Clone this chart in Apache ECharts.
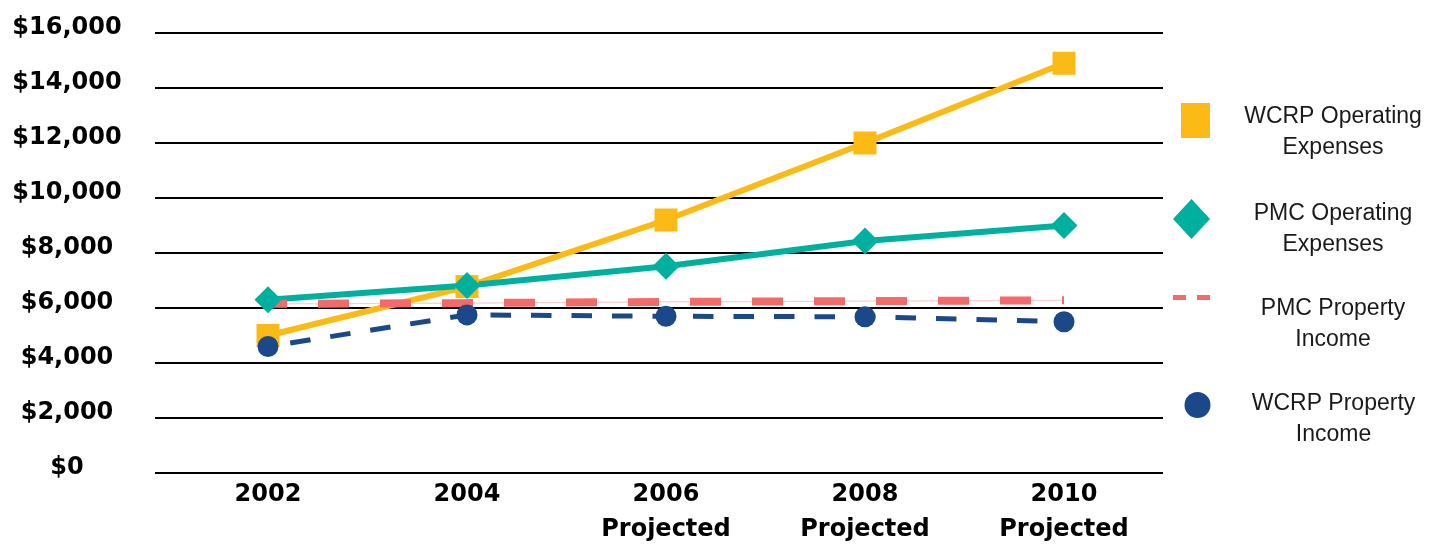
<!DOCTYPE html>
<html>
<head>
<meta charset="utf-8">
<title>Operating Expenses and Property Income</title>
<script src="https://cdn.jsdelivr.net/npm/echarts@6/dist/echarts.min.js"></script>
<style>
  html, body { margin: 0; padding: 0; background: #fff; }
  #chart { width: 1441px; height: 548px; }
</style>
</head>
<body>
<div id="chart"></div>
<script>
// Years shown on the category axis; later years are projections
const categories = ['2002', '2004', '2006', '2008', '2010'];
const projected = [false, false, true, true, true];

// Dollar values per year
const wcrpOperatingExpenses = [5000, 6780, 9200, 12000, 14900];
const pmcOperatingExpenses = [6300, 6820, 7520, 8440, 9000];
const pmcPropertyIncome = [6150, 6180, 6220, 6250, 6280];
const wcrpPropertyIncome = [4600, 5750, 5700, 5680, 5500];

// Value axis range
const yMin = 0;
const yMax = 16000;
const yStep = 2000;

const COLORS = {
  wcrpOp: '#FBBA16',
  pmcOp: '#00B09F',
  pmcInc: '#F26A6A',
  pmcIncThin: '#F9CFCF',
  wcrpInc: '#1B4889'
};

const AXIS_FONT = 'DejaVu Sans';
const LEGEND_FONT = 'Liberation Sans';

function dollars(v) {
  return '$' + String(v).replace(/\B(?=(\d{3})+(?!\d))/g, ',');
}

// Split a series name into two centred lines below a spacer line
function legendFormatter(name) {
  const i = name.lastIndexOf(' ');
  return '{s| }\n{t|' + name.slice(0, i) + '}\n{t|' + name.slice(i + 1) + '}';
}

function legendBlock(name, icon, left, top, w, h, spacer, color) {
  return {
    show: true,
    selectedMode: false,
    orient: 'vertical',
    left: left,
    top: top,
    padding: 0,
    itemWidth: w,
    itemHeight: h,
    data: [{ name: name, icon: icon, itemStyle: { color: color, borderWidth: 0 } }],
    formatter: legendFormatter,
    textStyle: {
      fontFamily: LEGEND_FONT,
      fontSize: 23,
      color: '#1a1a1a',
      rich: {
        s: { lineHeight: spacer, fontSize: 4 },
        t: {
          width: 236, align: 'center', lineHeight: 31,
          fontFamily: LEGEND_FONT, fontSize: 23, color: '#1a1a1a'
        }
      }
    }
  };
}

const chart = echarts.init(document.getElementById('chart'), null, { renderer: 'canvas' });

const option = {
  animation: false,
  backgroundColor: '#ffffff',
  grid: [
    { left: 155, right: 278, top: 33, bottom: 75, containLabel: false },
    { left: 168.5, right: 277.5, top: 33, bottom: 75, containLabel: false }
  ],
  xAxis: [
    { gridIndex: 0, type: 'category', data: categories, show: false },
    {
      gridIndex: 1,
      type: 'category',
      data: categories,
      boundaryGap: true,
      axisLine: { show: false },
      axisTick: { show: false },
      splitLine: { show: false },
      axisLabel: {
        margin: 4,
        interval: 0,
        fontFamily: AXIS_FONT,
        fontWeight: 'bold',
        fontSize: 24,
        lineHeight: 35,
        color: '#000',
        formatter: function (v, i) {
          return projected[i] ? v + '\nProjected' : v;
        }
      }
    }
  ],
  yAxis: [
    {
      gridIndex: 0,
      type: 'value',
      min: yMin,
      max: yMax,
      interval: yStep,
      axisLine: { show: false },
      axisTick: { show: false },
      splitLine: { show: true, lineStyle: { color: '#000', width: 2 } },
      axisLabel: {
        margin: 88,
        align: 'center',
        verticalAlign: 'bottom',
        lineHeight: 10,
        fontFamily: AXIS_FONT,
        fontWeight: 'bold',
        fontSize: 24,
        color: '#000',
        formatter: dollars
      }
    },
    {
      gridIndex: 1, type: 'value', min: yMin, max: yMax, interval: yStep,
      show: false, splitLine: { show: false }
    }
  ],
  legend: [
    legendBlock('WCRP Operating Expenses', 'rect', 1181, 87.5, 29, 35, 23, COLORS.wcrpOp),
    legendBlock('PMC Operating Expenses', 'diamond', 1173, 186, 37, 40, 21, COLORS.pmcOp),
    legendBlock('PMC Property Income', 'path://M0,0H13V5H0Z M24,0H37V5H24Z', 1173, 264.5, 37, 5, 54, COLORS.pmcInc),
    legendBlock('WCRP Property Income', 'circle', 1184.5, 372, 26, 26, 29, COLORS.wcrpInc)
  ],
  series: [
    {
      name: 'WCRP Operating Expenses',
      type: 'line',
      xAxisIndex: 1, yAxisIndex: 1,
      data: wcrpOperatingExpenses,
      symbol: 'rect',
      symbolSize: 23,
      itemStyle: { color: COLORS.wcrpOp },
      lineStyle: { color: COLORS.wcrpOp, width: 6 }
    },
    {
      name: 'PMC Operating Expenses',
      type: 'line',
      xAxisIndex: 1, yAxisIndex: 1,
      data: pmcOperatingExpenses,
      symbol: 'diamond',
      symbolSize: 27,
      itemStyle: { color: COLORS.pmcOp },
      lineStyle: { color: COLORS.pmcOp, width: 6 }
    },
    {
      // faint connecting stroke under the dashes
      name: 'PMC Property Income',
      type: 'line',
      xAxisIndex: 1, yAxisIndex: 1,
      data: pmcPropertyIncome,
      symbol: 'none',
      silent: true,
      itemStyle: { color: COLORS.pmcInc },
      lineStyle: { color: COLORS.pmcIncThin, width: 1.2 }
    },
    {
      name: 'PMC Property Income',
      type: 'line',
      xAxisIndex: 1, yAxisIndex: 1,
      data: pmcPropertyIncome,
      symbol: 'none',
      itemStyle: { color: COLORS.pmcInc },
      lineStyle: { color: COLORS.pmcInc, width: 8, type: [31, 31], dashOffset: 12, cap: 'butt' }
    },
    {
      name: 'WCRP Property Income',
      type: 'line',
      xAxisIndex: 1, yAxisIndex: 1,
      data: wcrpPropertyIncome,
      symbol: 'circle',
      symbolSize: 21,
      itemStyle: { color: COLORS.wcrpInc },
      lineStyle: { color: COLORS.wcrpInc, width: 5, type: [20.5, 20], dashOffset: 18, cap: 'butt' }
    }
  ]
};

chart.setOption(option);
</script>
</body>
</html>
